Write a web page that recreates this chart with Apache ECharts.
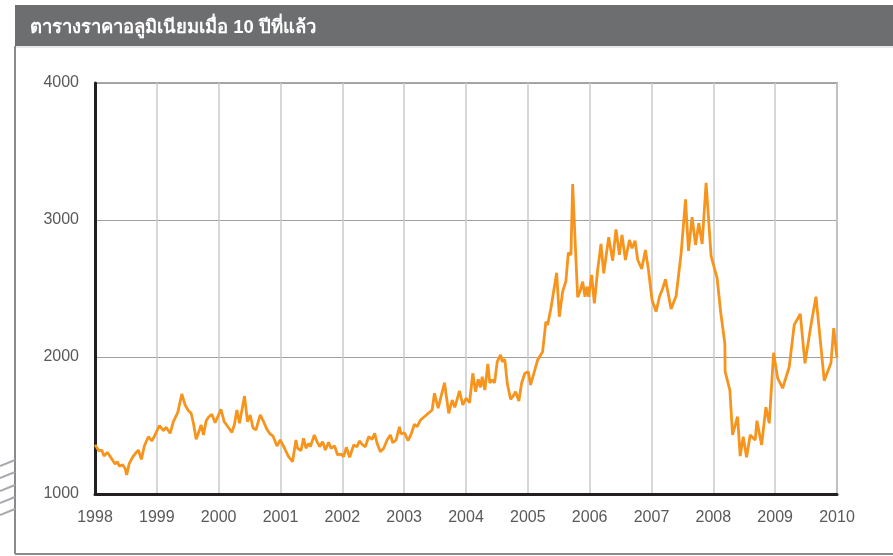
<!DOCTYPE html>
<html>
<head>
<meta charset="utf-8">
<script src="https://cdn.jsdelivr.net/npm/echarts@6/dist/echarts.min.js"></script>
<style>
    html, body { margin: 0; padding: 0; background: #fff; }
    #chart { width: 893px; height: 556px; }
</style>
</head>
<body>
<div id="chart"></div>
<script>
// ราคาอลูมิเนียม (ตำแหน่งเป็นปีทศนิยม, ราคา)
const years = [
    1998.00, 1998.065, 1998.108, 1998.146, 1998.199, 1998.259, 1998.324, 1998.361, 1998.394, 1998.449,
    1998.486, 1998.513, 1998.555, 1998.583, 1998.620, 1998.664, 1998.701, 1998.750, 1998.798, 1998.863,
    1998.918, 1998.972, 1999.041, 1999.106, 1999.150, 1999.215, 1999.268, 1999.339, 1999.404, 1999.457,
    1999.511, 1999.555, 1999.592, 1999.636, 1999.689, 1999.717, 1999.754, 1999.798, 1999.835, 1999.890,
    1999.943, 1999.997, 2000.036, 2000.089, 2000.149, 2000.214, 2000.256, 2000.295, 2000.337, 2000.360,
    2000.418, 2000.466, 2000.510, 2000.554, 2000.602, 2000.672, 2000.726, 2000.781, 2000.823, 2000.878,
    2000.943, 2000.996, 2001.066, 2001.130, 2001.195, 2001.250, 2001.276, 2001.331, 2001.373, 2001.412,
    2001.454, 2001.482, 2001.547, 2001.590, 2001.632, 2001.681, 2001.725, 2001.778, 2001.817, 2001.875,
    2001.924, 2001.979, 2002.021, 2002.065, 2002.118, 2002.183, 2002.238, 2002.275, 2002.329, 2002.372,
    2002.426, 2002.481, 2002.523, 2002.562, 2002.615, 2002.669, 2002.724, 2002.777, 2002.815, 2002.870,
    2002.923, 2002.951, 2003.004, 2003.064, 2003.117, 2003.166, 2003.210, 2003.263, 2003.317, 2003.372,
    2003.453, 2003.490, 2003.550, 2003.603, 2003.652, 2003.721, 2003.777, 2003.819, 2003.895, 2003.948,
    2004.003, 2004.057, 2004.110, 2004.154, 2004.198, 2004.235, 2004.262, 2004.305, 2004.353, 2004.385,
    2004.424, 2004.462, 2004.505, 2004.559, 2004.586, 2004.628, 2004.667, 2004.721, 2004.774, 2004.802,
    2004.855, 2004.899, 2004.952, 2005.007, 2005.045, 2005.061, 2005.158, 2005.239, 2005.292, 2005.320,
    2005.373, 2005.466, 2005.509, 2005.563, 2005.616, 2005.655, 2005.697, 2005.725, 2005.769, 2005.806,
    2005.843, 2005.887, 2005.924, 2005.956, 2005.984, 2006.032, 2006.076, 2006.130, 2006.183, 2006.227,
    2006.308, 2006.372, 2006.426, 2006.481, 2006.523, 2006.578, 2006.643, 2006.685, 2006.734, 2006.777,
    2006.842, 2006.902, 2006.951, 2007.009, 2007.074, 2007.129, 2007.182, 2007.226, 2007.317, 2007.398,
    2007.479, 2007.550, 2007.598, 2007.657, 2007.712, 2007.765, 2007.819, 2007.883, 2007.964, 2008.061,
    2008.121, 2008.186, 2008.191, 2008.267, 2008.311, 2008.392, 2008.434, 2008.483, 2008.538, 2008.596,
    2008.677, 2008.705, 2008.781, 2008.850, 2008.904, 2008.975, 2009.040, 2009.121, 2009.228, 2009.308,
    2009.406, 2009.482, 2009.579, 2009.660, 2009.794, 2009.903, 2009.947, 2010.00
]
const prices = [
    1360, 1314, 1321, 1277, 1304, 1265, 1219, 1236, 1204, 1212,
    1188, 1139, 1224, 1217, 1277, 1301, 1321, 1253, 1350, 1418,
    1387, 1431, 1499, 1462, 1487, 1443, 1528, 1596, 1730, 1650,
    1608, 1589, 1516, 1399, 1467, 1504, 1431, 1535, 1560, 1582,
    1520, 1577, 1618, 1528, 1491, 1450, 1509, 1613, 1516, 1504,
    1715, 1528, 1577, 1484, 1467, 1577, 1528, 1472, 1443, 1423,
    1350, 1394, 1334, 1272, 1236, 1394, 1334, 1316, 1407, 1334,
    1370, 1345, 1431, 1382, 1345, 1382, 1321, 1377, 1334, 1350,
    1285, 1292, 1272, 1341, 1268, 1358, 1345, 1387, 1358, 1345,
    1418, 1399, 1443, 1370, 1309, 1334, 1394, 1431, 1374, 1394,
    1491, 1438, 1447, 1389, 1443, 1509, 1491, 1540, 1560, 1582,
    1613, 1735, 1626, 1723, 1812, 1589, 1686, 1633, 1752, 1650,
    1699, 1666, 1881, 1747, 1837, 1779, 1856, 1759, 1949, 1812,
    1832, 1812, 1966, 2015, 1966, 1983, 1808, 1691, 1723, 1747,
    1679, 1808, 1881, 1893, 1796, 1788, 1978, 2039, 2258, 2234,
    2356, 2615, 2294, 2477, 2555, 2761, 2745, 3263, 2805, 2436,
    2477, 2550, 2440, 2513, 2440, 2599, 2392, 2640, 2825, 2611,
    2874, 2703, 2932, 2745, 2891, 2708, 2854, 2794, 2849, 2708,
    2643, 2781, 2635, 2416, 2331, 2440, 2502, 2567, 2351, 2445,
    2757, 3151, 2774, 3020, 2818, 2976, 2825, 3272, 2737, 2575,
    2319, 2100, 1893, 1759, 1431, 1564, 1277, 1418, 1268, 1431,
    1394, 1535, 1358, 1633, 1516, 2031, 1845, 1772, 1929, 2234,
    2314, 1954, 2234, 2440, 1827, 1958, 2210, 1993
]
const yearTicks = [1998, 2010]
const priceTicks = [1000, 4000]
const chartTitle = 'ตารางราคาอลูมิเนียมเมื่อ 10 ปีที่แล้ว'

const seriesData = years.map((y, i) => [y, prices[i]])

const hatch = []
;[460, 472, 485, 497, 509].forEach((y) => {
    hatch.push({
        type: 'line',
        shape: { x1: 0, y1: y + 6, x2: 15, y2: y },
        style: { stroke: '#a7a9ac', lineWidth: 2 }
    })
})

const chart = echarts.init(document.getElementById('chart'))
chart.setOption({
    animation: false,
    title: {
        text: chartTitle,
        left: 30,
        top: 18,
        padding: 0,
        textStyle: {
            color: '#ffffff',
            fontSize: 18.5,
            fontWeight: 'bold',
            fontFamily: 'Liberation Sans, Arial, sans-serif'
        }
    },
    graphic: [
        {
            type: 'rect',
            z: -10,
            shape: { x: 15, y: 5, width: 878, height: 41 },
            style: { fill: '#6d6e70' }
        },
        {
            type: 'line',
            shape: { x1: 15, y1: 47, x2: 893, y2: 47 },
            style: { stroke: '#d4d4d4', lineWidth: 1 }
        },
        {
            type: 'line',
            shape: { x1: 15, y1: 46, x2: 15, y2: 554 },
            style: { stroke: '#8a8b8d', lineWidth: 2 }
        },
        {
            type: 'line',
            shape: { x1: 15, y1: 554, x2: 893, y2: 554 },
            style: { stroke: '#8a8b8d', lineWidth: 2 }
        }
    ].concat(hatch),
    grid: {
        left: 95,
        right: 56,
        top: 83,
        bottom: 62,
        show: true,
        borderColor: '#a7a9ac',
        borderWidth: 2
    },
    xAxis: {
        type: 'value',
        min: yearTicks[0],
        max: yearTicks[1],
        interval: 1,
        axisLine: { lineStyle: { color: '#231f20', width: 3 } },
        axisTick: { show: false },
        axisLabel: {
            margin: 16,
            color: '#58595b',
            fontSize: 16,
            fontFamily: 'Liberation Sans, Arial, sans-serif',
            formatter: (v) => String(v)
        },
        splitLine: { show: true, lineStyle: { color: '#c9cacc', width: 1.5 } }
    },
    yAxis: {
        type: 'value',
        min: priceTicks[0],
        max: priceTicks[1],
        interval: 1000,
        axisLine: { show: true, lineStyle: { color: '#231f20', width: 3 } },
        axisTick: { show: false },
        axisLabel: {
            margin: 16,
            color: '#58595b',
            fontSize: 16,
            fontFamily: 'Liberation Sans, Arial, sans-serif',
            formatter: (v) => String(v)
        },
        splitLine: { show: true, lineStyle: { color: '#a0a0a2', width: 1 } }
    },
    series: [
        {
            type: 'line',
            data: seriesData,
            showSymbol: false,
            symbol: 'none',
            lineStyle: { color: '#f7941d', width: 2.8 },
            z: 5
        }
    ]
})
</script>
</body>
</html>
